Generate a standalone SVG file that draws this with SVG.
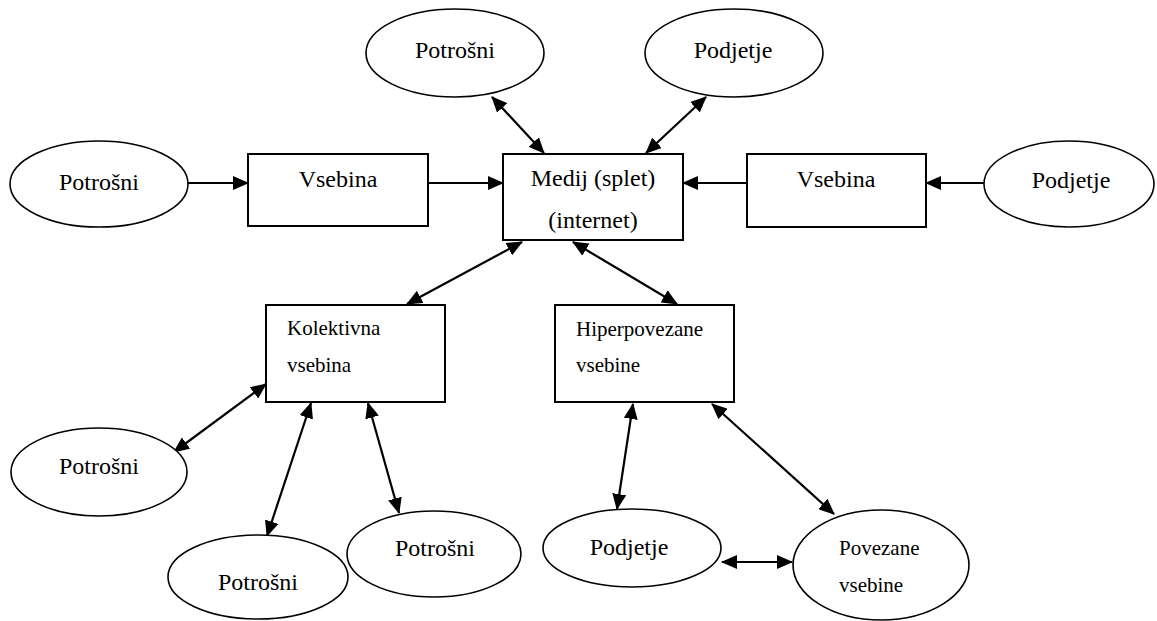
<svg xmlns="http://www.w3.org/2000/svg" width="1157" height="621" viewBox="0 0 1157 621">
<style>
.n{fill:#fff;stroke:#000;stroke-width:2}
.e{fill:#fff;stroke:#000;stroke-width:1.6}
.c{stroke:#000;stroke-width:2.2;fill:none}
</style>
<defs>
<marker id="ah" markerUnits="userSpaceOnUse" markerWidth="16" markerHeight="14" refX="15" refY="7" orient="auto-start-reverse" viewBox="0 0 16 14">
<path d="M0,0 L16,7 L0,14 z" fill="#000"/>
</marker>
</defs>
<rect width="1157" height="621" fill="#fff"/>
<g id="connectors">
<line class="c" x1="188" y1="183" x2="248" y2="183" marker-end="url(#ah)"/>
<line class="c" x1="428" y1="183" x2="503" y2="183" marker-end="url(#ah)"/>
<line class="c" x1="984" y1="183" x2="926" y2="183" marker-end="url(#ah)"/>
<line class="c" x1="747" y1="183" x2="683" y2="183" marker-end="url(#ah)"/>
<line class="c" x1="492" y1="97" x2="544" y2="153" marker-start="url(#ah)" marker-end="url(#ah)"/>
<line class="c" x1="706" y1="97" x2="646" y2="153" marker-start="url(#ah)" marker-end="url(#ah)"/>
<line class="c" x1="522" y1="242" x2="407" y2="304" marker-start="url(#ah)" marker-end="url(#ah)"/>
<line class="c" x1="573" y1="242" x2="677" y2="304" marker-start="url(#ah)" marker-end="url(#ah)"/>
<line class="c" x1="266" y1="384" x2="174" y2="452" marker-start="url(#ah)" marker-end="url(#ah)"/>
<line class="c" x1="311" y1="403" x2="267" y2="536" marker-start="url(#ah)" marker-end="url(#ah)"/>
<line class="c" x1="368" y1="403" x2="399" y2="513" marker-start="url(#ah)" marker-end="url(#ah)"/>
<line class="c" x1="633" y1="404" x2="617" y2="509" marker-start="url(#ah)" marker-end="url(#ah)"/>
<line class="c" x1="712" y1="404" x2="834" y2="514" marker-start="url(#ah)" marker-end="url(#ah)"/>
<line class="c" x1="722" y1="562" x2="792" y2="562" marker-start="url(#ah)" marker-end="url(#ah)"/>
</g>
<g font-family="Liberation Serif, Times New Roman, Times, DejaVu Serif, serif" font-size="24" fill="#000">
<g id="potrosni-top"><ellipse class="e" cx="455" cy="53" rx="89" ry="44"/><text x="455" y="58" text-anchor="middle">Potrošni</text></g>
<g id="podjetje-top"><ellipse class="e" cx="734" cy="53" rx="89" ry="44"/><text x="733" y="58" text-anchor="middle">Podjetje</text></g>
<g id="potrosni-left"><ellipse class="e" cx="99" cy="184" rx="89" ry="43"/><text x="99" y="190" text-anchor="middle">Potrošni</text></g>
<g id="vsebina-left"><rect class="n" x="248" y="154" width="180" height="72"/><text x="338" y="187" text-anchor="middle">Vsebina</text></g>
<g id="medij"><rect class="n" x="503" y="154" width="180" height="86"/><text x="593" y="186" text-anchor="middle">Medij (splet)</text><text x="593" y="228" text-anchor="middle">(internet)</text></g>
<g id="vsebina-right"><rect class="n" x="747" y="154" width="179" height="73"/><text x="836" y="187" text-anchor="middle">Vsebina</text></g>
<g id="podjetje-right"><ellipse class="e" cx="1069" cy="184" rx="85" ry="43"/><text x="1071" y="188" text-anchor="middle">Podjetje</text></g>
<g id="kolektivna" font-size="21"><rect class="n" x="266" y="305" width="179" height="97"/><text x="287" y="335">Kolektivna</text><text x="287" y="372">vsebina</text></g>
<g id="hiperpovezane" font-size="21"><rect class="n" x="555" y="305" width="179" height="97"/><text x="576" y="336">Hiperpovezane</text><text x="576" y="372">vsebine</text></g>
<g id="potrosni-bl"><ellipse class="e" cx="99" cy="472" rx="88" ry="44"/><text x="99" y="474" text-anchor="middle">Potrošni</text></g>
<g id="potrosni-b"><ellipse class="e" cx="258" cy="577" rx="90" ry="42"/><text x="258" y="590" text-anchor="middle">Potrošni</text></g>
<g id="potrosni-br"><ellipse class="e" cx="434" cy="554" rx="87" ry="43"/><text x="435" y="556" text-anchor="middle">Potrošni</text></g>
<g id="podjetje-b"><ellipse class="e" cx="632" cy="548" rx="89" ry="39"/><text x="629" y="555" text-anchor="middle">Podjetje</text></g>
<g id="povezane" font-size="21"><ellipse class="e" cx="881" cy="565" rx="88" ry="55"/><text x="839" y="555">Povezane</text><text x="839" y="592">vsebine</text></g>
</g>
</svg>
